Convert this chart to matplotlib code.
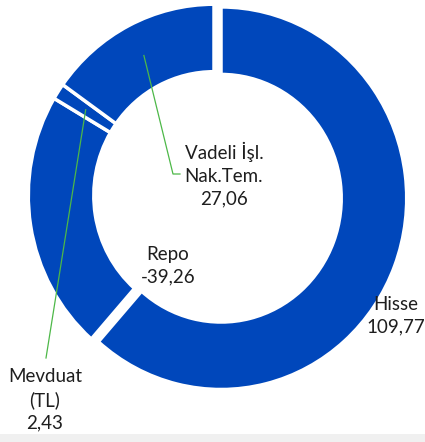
import matplotlib
matplotlib.use("Agg")
import matplotlib.pyplot as plt
import numpy as np
from matplotlib.patches import Rectangle

# ---- data ----
categories = ["Hisse", "Repo", "Mevduat\n(TL)", "Vadeli İşl.\nNak.Tem."]
values = [109.77, -39.26, 2.43, 27.06]

BLUE = "#0047BB"
GREEN = "#4DB848"
TEXT = "#1E1E1E"

W_PX, H_PX = 425, 442
SY = 1.03  # slight vertical stretch of the ring

fig = plt.figure(figsize=(W_PX / 100, H_PX / 100), dpi=100)
fig.patches.append(Rectangle((0, 0), 1, 8 / H_PX, transform=fig.transFigure,
                             facecolor="#F0F0F0", edgecolor="none", zorder=0))
ax = fig.add_axes([0, 0, 1, 1])
ax.patch.set_alpha(0)


def d(xp, yp):
    """pixel position (from top-left) -> data coords"""
    return xp, (H_PX - yp) / SY


cx, cy = d(214, 195.5)
R = 185.7
WIDTH = 65.5
sizes = [abs(v) for v in values]

wedges, _ = ax.pie(sizes, startangle=90, counterclock=False, center=(cx, cy),
                   radius=R, explode=[7.5, 0, 0, 0], colors=[BLUE] * 4,
                   wedgeprops=dict(width=WIDTH, edgecolor="white", linewidth=2.5),
                   frame=False)
ax.set_xlim(0, W_PX)
ax.set_ylim(0, H_PX / SY)
ax.set_aspect("auto")
ax.axis("off")


def fmt(v):
    return f"{v:.2f}".replace(".", ",")


labels = [f"{c}\n{fmt(v)}" for c, v in zip(categories, values)]
label_pos = [(396, 316), (168, 266), (45, 400), (224, 175)]
# leader-line end points (label anchors), None = no leader
leader_end = [None, None, [(46, 358)], [(173, 174), (180, 174)]]

rmid = R - WIDTH / 2
for w, lab, pos, lead in zip(wedges, labels, label_pos, leader_end):
    ax.text(*d(*pos), lab, ha="center", va="center", multialignment="center",
            fontsize=13.5, family="Lato", color=TEXT, linespacing=1.4, zorder=5)
    if lead is not None:
        th = np.deg2rad((w.theta1 + w.theta2) / 2)
        wcx, wcy = w.center
        xs = [wcx + rmid * np.cos(th)] + [d(*p)[0] for p in lead]
        ys = [wcy + rmid * np.sin(th)] + [d(*p)[1] for p in lead]
        ax.plot(xs, ys, color=GREEN, lw=0.9, zorder=4)

fig.savefig("out.png", dpi=100)
